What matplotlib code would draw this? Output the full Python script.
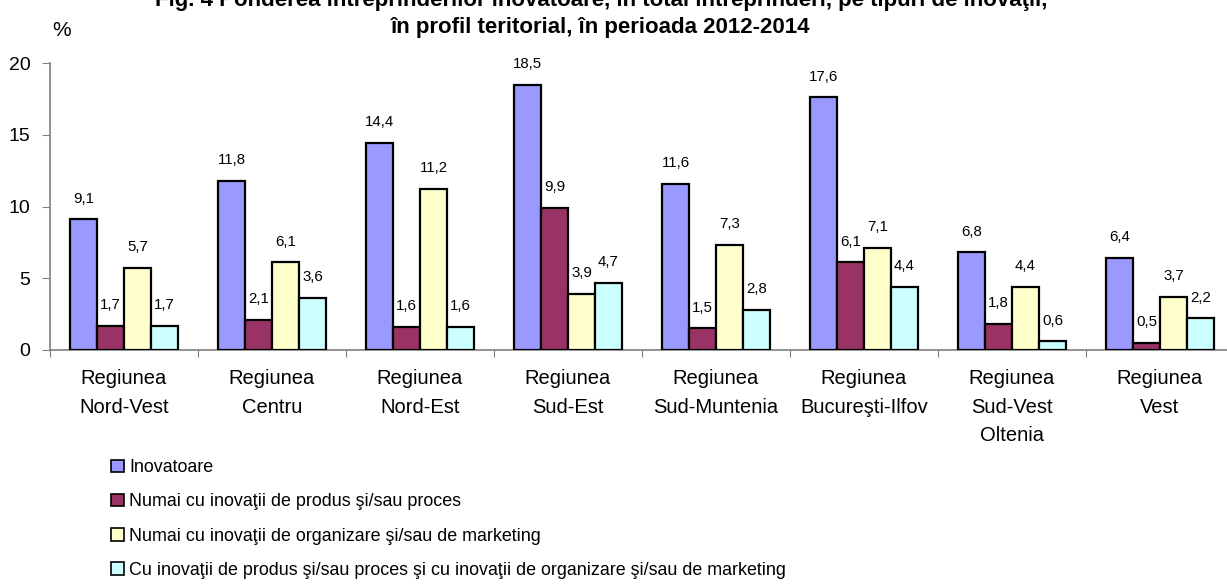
import matplotlib
matplotlib.use("Agg")
import matplotlib.pyplot as plt
import numpy as np

plt.rcParams['font.family'] = ['Liberation Sans', 'DejaVu Sans']

categories = ["Regiunea\nNord-Vest", "Regiunea\nCentru", "Regiunea\nNord-Est", "Regiunea\nSud-Est",
              "Regiunea\nSud-Muntenia", "Regiunea\nBucureşti-Ilfov", "Regiunea\nSud-Vest\nOltenia",
              "Regiunea\nVest"]
series_names = ["Inovatoare",
                "Numai cu inovaţii de produs şi/sau proces",
                "Numai cu inovaţii de organizare şi/sau de marketing",
                "Cu inovaţii de produs şi/sau proces şi cu inovaţii de organizare şi/sau de marketing"]
inovatoare = [9.1, 11.8, 14.4, 18.5, 11.6, 17.6, 6.8, 6.4]
produs_proces = [1.7, 2.1, 1.6, 9.9, 1.5, 6.1, 1.8, 0.5]
organizare_marketing = [5.7, 6.1, 11.2, 3.9, 7.3, 7.1, 4.4, 3.7]
ambele = [1.7, 3.6, 1.6, 4.7, 2.8, 4.4, 0.6, 2.2]
yticks = [0, 5, 10, 15, 20]
colors = ["#9999FF", "#993366", "#FFFFCC", "#CCFFFF"]

fig = plt.figure(figsize=(12.27, 5.86), dpi=100)
ax = fig.add_axes([50/1227, 236/586, 1184/1227, 287/586])

x = np.arange(len(categories))
w = 0.182
data = [inovatoare, produs_proces, organizare_marketing, ambele]
for i, (vals, c, name) in enumerate(zip(data, colors, series_names)):
    pos = x + (i - 1.5) * w
    ax.bar(pos, vals, width=w, color=c, edgecolor='black', linewidth=1.6, label=name, zorder=3)
    for p, v in zip(pos, vals):
        ax.annotate(f"{v:.1f}".replace('.', ','), (p, v), xytext=(0, 10), textcoords='offset points',
                    ha='center', va='bottom', fontsize=10.8)

ax.set_xlim(-0.5, 7.5)
ax.set_ylim(0, 20)
ax.set_yticks(yticks)
ax.set_yticklabels([str(t) for t in yticks], fontsize=14)
ax.set_xticks(np.arange(-0.5, 8.0, 1.0))
ax.set_xticklabels([])
ax.set_xticks(x, minor=True)
ax.set_xticklabels(categories, minor=True, fontsize=14.5, linespacing=1.62, va='top')
ax.tick_params(axis='x', which='minor', length=0, pad=14)
ax.tick_params(axis='x', which='major', length=5, color='#808080', direction='out')
ax.tick_params(axis='y', length=6, color='#808080', pad=8)
for s in ['top', 'right']:
    ax.spines[s].set_visible(False)
for s in ['left', 'bottom']:
    ax.spines[s].set_color('#808080')
    ax.spines[s].set_linewidth(1.2)

fig.text(62/1227, 1 - 30/586, "%", fontsize=15, ha='center', va='center')
fig.text(601/1227, 1 - 33/586, "în profil teritorial, în perioada 2012-2014", fontsize=16,
         fontweight='bold', ha='center', va='baseline')
fig.text(601/1227, 1 - 6/586, "Fig. 4 Ponderea întreprinderilor inovatoare, în total întreprinderi, pe tipuri de inovaţii,",
         fontsize=16, fontweight='bold', ha='center', va='baseline')

handles, labels = ax.get_legend_handles_labels()
leg = fig.legend(handles, labels, loc='upper left', bbox_to_anchor=(104/1227, 1 - 452/586),
                 frameon=False, fontsize=12.9, handlelength=0.72, handleheight=0.72,
                 handletextpad=0.3, labelspacing=0.96, borderaxespad=0)
for h in leg.legend_handles:
    h.set_linewidth(1.2)

fig.savefig("out.png", dpi=100)
